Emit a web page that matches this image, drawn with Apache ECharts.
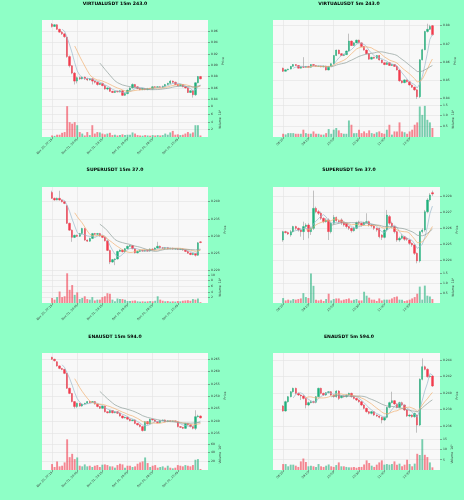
<!DOCTYPE html>
<html><head><meta charset="utf-8">
<script src="https://cdn.jsdelivr.net/npm/echarts@6/dist/echarts.min.js"></script>
<style>html,body{margin:0;padding:0;background:#8effc6;}#c{width:464px;height:500px;}</style>
</head><body><div id="c"></div><script>
// ---------- DATA ----------
const ticks15 = ['Nov 30, 22:15','Dec 01, 00:45','Dec 01, 03:15','Dec 01, 05:45','Dec 01, 08:15','Dec 01, 10:45'];
const ticks5 = ['08:20','09:10','10:00','10:50','11:40','12:30'];
const tickPos = [0,10,20,30,40,50];
const titles = ['VIRTUALUSDT 15m 243.0','VIRTUALUSDT 5m 243.0','SUPERUSDT 15m 37.0','SUPERUSDT 5m 37.0','ENAUSDT 15m 594.0','ENAUSDT 5m 594.0'];

// rows: [open, close, low, high]
const virt15Ohlc = [[0.972,0.968,0.966,0.974],[0.968,0.971,0.967,0.972],[0.971,0.963,0.962,0.972],[0.963,0.958,0.957,0.964],[0.958,0.955,0.953,0.960],[0.955,0.950,0.948,0.956],[0.949,0.915,0.913,0.950],[0.915,0.899,0.896,0.917],[0.899,0.886,0.884,0.900],[0.886,0.872,0.866,0.888],[0.872,0.878,0.868,0.880],[0.878,0.876,0.874,0.880],[0.876,0.879,0.875,0.880],[0.879,0.876,0.874,0.880],[0.876,0.874,0.872,0.878],[0.874,0.876,0.873,0.877],[0.876,0.872,0.866,0.877],[0.872,0.870,0.868,0.873],[0.870,0.866,0.864,0.871],[0.866,0.868,0.865,0.869],[0.868,0.864,0.863,0.869],[0.864,0.858,0.857,0.865],[0.858,0.860,0.856,0.861],[0.860,0.854,0.853,0.861],[0.854,0.852,0.851,0.855],[0.852,0.854,0.851,0.855],[0.854,0.853,0.852,0.855],[0.853,0.855,0.852,0.856],[0.855,0.847,0.846,0.856],[0.847,0.850,0.846,0.851],[0.850,0.856,0.849,0.857],[0.856,0.860,0.855,0.861],[0.860,0.866,0.859,0.868],[0.866,0.862,0.861,0.867],[0.862,0.859,0.858,0.863],[0.859,0.857,0.856,0.860],[0.857,0.859,0.856,0.860],[0.859,0.857,0.856,0.860],[0.857,0.859,0.856,0.860],[0.859,0.858,0.857,0.860],[0.858,0.862,0.857,0.863],[0.862,0.861,0.860,0.863],[0.861,0.862,0.860,0.863],[0.862,0.861,0.860,0.863],[0.861,0.863,0.860,0.864],[0.863,0.866,0.862,0.867],[0.866,0.868,0.865,0.869],[0.868,0.872,0.867,0.874],[0.872,0.870,0.868,0.873],[0.870,0.866,0.865,0.871],[0.866,0.864,0.863,0.867],[0.864,0.866,0.863,0.867],[0.866,0.862,0.861,0.867],[0.862,0.860,0.859,0.863],[0.860,0.852,0.851,0.861],[0.852,0.855,0.851,0.856],[0.855,0.848,0.843,0.856],[0.848,0.869,0.846,0.870],[0.869,0.880,0.868,0.881],[0.880,0.876,0.875,0.881]];
const virt15Vol = [0.4,0.3,0.6,0.6,1.1,1.3,8.1,3.9,3.5,3.9,3.1,1.3,0.9,0.4,1.3,0.5,3.1,0.9,1.3,1.2,0.9,0.7,0.9,1.1,0.5,0.6,0.4,0.5,0.7,0.5,0.6,0.6,1.2,0.9,0.5,0.4,0.35,0.5,0.4,0.35,0.5,0.4,0.5,0.4,0.5,0.9,0.6,1.2,1.6,0.6,0.7,0.5,0.6,0.9,1.3,0.9,1.2,3.1,3.1,0.4];

const virt5Ohlc = [[0.8565,0.8548,0.8544,0.8568],[0.8548,0.8556,0.8546,0.8558],[0.8556,0.8560,0.8553,0.8562],[0.8560,0.8575,0.8558,0.8577],[0.8575,0.8585,0.8573,0.8588],[0.8585,0.8580,0.8577,0.8587],[0.8580,0.8565,0.8563,0.8582],[0.8565,0.8573,0.8563,0.8575],[0.8573,0.8570,0.8566,0.8626],[0.8570,0.8575,0.8568,0.8577],[0.8575,0.8570,0.8568,0.8577],[0.8570,0.8585,0.8568,0.8587],[0.8585,0.8580,0.8578,0.8587],[0.8580,0.8575,0.8573,0.8582],[0.8575,0.8577,0.8573,0.8579],[0.8577,0.8572,0.8570,0.8579],[0.8572,0.8577,0.8570,0.8579],[0.8577,0.8555,0.8552,0.8579],[0.8555,0.8575,0.8553,0.8577],[0.8575,0.8590,0.8573,0.8592],[0.8590,0.8635,0.8588,0.8638],[0.8635,0.8665,0.8632,0.8668],[0.8665,0.8645,0.8642,0.8668],[0.8645,0.8635,0.8632,0.8648],[0.8635,0.8640,0.8632,0.8643],[0.8640,0.8660,0.8638,0.8663],[0.8660,0.8715,0.8658,0.8756],[0.8715,0.8690,0.8688,0.8718],[0.8690,0.8705,0.8688,0.8708],[0.8705,0.8720,0.8703,0.8723],[0.8720,0.8705,0.8702,0.8723],[0.8705,0.8685,0.8682,0.8708],[0.8685,0.8665,0.8662,0.8688],[0.8665,0.8645,0.8642,0.8668],[0.8645,0.8615,0.8612,0.8648],[0.8615,0.8625,0.8612,0.8628],[0.8625,0.8620,0.8617,0.8628],[0.8620,0.8635,0.8618,0.8638],[0.8635,0.8610,0.8607,0.8638],[0.8610,0.8595,0.8592,0.8613],[0.8595,0.8585,0.8582,0.8598],[0.8585,0.8595,0.8583,0.8598],[0.8595,0.8580,0.8577,0.8598],[0.8580,0.8585,0.8577,0.8588],[0.8585,0.8575,0.8572,0.8588],[0.8575,0.8555,0.8552,0.8578],[0.8555,0.8495,0.8490,0.8558],[0.8495,0.8485,0.8480,0.8498],[0.8485,0.8500,0.8482,0.8503],[0.8500,0.8490,0.8486,0.8503],[0.8490,0.8472,0.8468,0.8493],[0.8472,0.8460,0.8456,0.8475],[0.8460,0.8445,0.8440,0.8463],[0.8445,0.8407,0.8395,0.8448],[0.8407,0.8611,0.8400,0.8615],[0.8611,0.8667,0.8608,0.8672],[0.8667,0.8768,0.8664,0.8772],[0.8768,0.8780,0.8762,0.8811],[0.8780,0.8796,0.8776,0.8805],[0.8800,0.8750,0.8745,0.8804]];
const virt5Vol = [0.15,0.12,0.18,0.18,0.18,0.15,0.15,0.15,0.34,0.18,0.15,0.15,0.26,0.15,0.15,0.11,0.11,0.18,0.37,0.15,0.34,0.42,0.31,0.18,0.15,0.15,0.77,0.57,0.18,0.18,0.34,0.18,0.26,0.18,0.31,0.18,0.15,0.22,0.26,0.18,0.15,0.34,0.57,0.11,0.26,0.26,0.68,0.26,0.22,0.15,0.26,0.34,0.57,0.68,1.42,1.03,1.45,0.8,0.68,0.42];

const super15Ohlc = [[0.2427,0.2410,0.2408,0.2432],[0.2410,0.2405,0.2403,0.2412],[0.2405,0.2410,0.2404,0.2412],[0.2410,0.2405,0.2403,0.2432],[0.2405,0.2400,0.2398,0.2407],[0.2400,0.2395,0.2393,0.2402],[0.2388,0.2337,0.2335,0.2390],[0.2337,0.2317,0.2315,0.2339],[0.2317,0.2296,0.2283,0.2319],[0.2296,0.2302,0.2294,0.2304],[0.2302,0.2299,0.2297,0.2304],[0.2299,0.2307,0.2297,0.2309],[0.2307,0.2322,0.2305,0.2324],[0.2322,0.2288,0.2286,0.2324],[0.2288,0.2285,0.2283,0.2290],[0.2285,0.2293,0.2283,0.2295],[0.2293,0.2307,0.2291,0.2309],[0.2307,0.2305,0.2303,0.2309],[0.2305,0.2307,0.2303,0.2309],[0.2307,0.2300,0.2298,0.2309],[0.2300,0.2296,0.2294,0.2302],[0.2296,0.2286,0.2284,0.2298],[0.2286,0.2258,0.2256,0.2288],[0.2258,0.2224,0.2218,0.2260],[0.2224,0.2231,0.2222,0.2233],[0.2231,0.2233,0.2215,0.2235],[0.2233,0.2255,0.2231,0.2257],[0.2255,0.2259,0.2253,0.2261],[0.2259,0.2254,0.2252,0.2261],[0.2254,0.2263,0.2252,0.2265],[0.2263,0.2270,0.2261,0.2272],[0.2270,0.2272,0.2268,0.2274],[0.2272,0.2263,0.2261,0.2274],[0.2263,0.2251,0.2249,0.2265],[0.2251,0.2255,0.2249,0.2257],[0.2255,0.2258,0.2253,0.2260],[0.2258,0.2256,0.2254,0.2260],[0.2256,0.2258,0.2254,0.2260],[0.2258,0.2256,0.2254,0.2260],[0.2256,0.2262,0.2254,0.2264],[0.2262,0.2260,0.2258,0.2264],[0.2260,0.2265,0.2258,0.2267],[0.2265,0.2270,0.2263,0.2283],[0.2270,0.2266,0.2264,0.2272],[0.2266,0.2264,0.2262,0.2268],[0.2264,0.2266,0.2262,0.2268],[0.2266,0.2263,0.2261,0.2268],[0.2263,0.2264,0.2261,0.2266],[0.2264,0.2262,0.2260,0.2266],[0.2262,0.2263,0.2260,0.2265],[0.2263,0.2261,0.2259,0.2265],[0.2261,0.2262,0.2259,0.2264],[0.2262,0.2259,0.2257,0.2264],[0.2259,0.2255,0.2253,0.2261],[0.2255,0.2250,0.2248,0.2257],[0.2250,0.2246,0.2244,0.2252],[0.2246,0.2249,0.2244,0.2251],[0.2249,0.2244,0.2240,0.2251],[0.2244,0.2280,0.2242,0.2282],[0.2283,0.2281,0.2279,0.2285]];
const super15Vol = [1.8,1.2,2.1,4.1,2.1,2.4,10.6,4.7,6.4,2.9,3.8,1.4,1.8,2.4,1.4,1.2,2.1,0.9,1.2,1.2,2.1,2.4,3.5,3.3,1.2,0.6,1.6,1.4,1.4,1.2,0.7,0.7,0.8,0.9,0.6,0.5,0.6,0.5,0.6,0.7,0.6,0.8,2.4,1.2,0.8,0.6,0.7,0.5,0.6,0.5,0.7,0.6,0.8,0.9,1.0,0.8,1.4,1.2,1.6,0.3];

const super5Ohlc = [[0.22526,0.22579,0.22515,0.22584],[0.22579,0.22573,0.22568,0.22584],[0.22573,0.22564,0.22558,0.22579],[0.22558,0.22579,0.22547,0.22590],[0.22579,0.22611,0.22573,0.22616],[0.22611,0.22600,0.22590,0.22616],[0.22600,0.22589,0.22579,0.22605],[0.22589,0.22579,0.22547,0.22600],[0.22579,0.22611,0.22526,0.22642],[0.22611,0.22621,0.22600,0.22632],[0.22621,0.22579,0.22537,0.22632],[0.22579,0.22600,0.22558,0.22611],[0.22600,0.22726,0.22589,0.22838],[0.22726,0.22705,0.22695,0.22737],[0.22705,0.22695,0.22684,0.22716],[0.22695,0.22663,0.22653,0.22705],[0.22663,0.22642,0.22632,0.22669],[0.22642,0.22653,0.22636,0.22663],[0.22653,0.22579,0.22526,0.22663],[0.22579,0.22632,0.22568,0.22642],[0.22632,0.22669,0.22621,0.22684],[0.22669,0.22648,0.22642,0.22674],[0.22648,0.22642,0.22632,0.22653],[0.22653,0.22636,0.22621,0.22663],[0.22636,0.22621,0.22611,0.22642],[0.22632,0.22611,0.22600,0.22636],[0.22611,0.22600,0.22589,0.22616],[0.22600,0.22585,0.22573,0.22605],[0.22585,0.22600,0.22579,0.22611],[0.22600,0.22636,0.22595,0.22642],[0.22636,0.22632,0.22621,0.22648],[0.22632,0.22621,0.22611,0.22636],[0.22621,0.22636,0.22616,0.22642],[0.22636,0.22642,0.22632,0.22695],[0.22642,0.22621,0.22611,0.22648],[0.22621,0.22615,0.22605,0.22627],[0.22615,0.22600,0.22589,0.22621],[0.22600,0.22589,0.22579,0.22605],[0.22600,0.22547,0.22537,0.22605],[0.22558,0.22543,0.22526,0.22563],[0.22543,0.22589,0.22537,0.22595],[0.22589,0.22684,0.22579,0.22716],[0.22674,0.22632,0.22621,0.22684],[0.22632,0.22611,0.22600,0.22642],[0.22611,0.22579,0.22568,0.22616],[0.22579,0.22526,0.22515,0.22584],[0.22526,0.22537,0.22515,0.22547],[0.22537,0.22552,0.22531,0.22563],[0.22547,0.22531,0.22521,0.22552],[0.22537,0.22531,0.22521,0.22543],[0.22526,0.22505,0.22495,0.22531],[0.22505,0.22495,0.22484,0.22510],[0.22495,0.22442,0.22432,0.22500],[0.22442,0.22394,0.22379,0.22447],[0.22394,0.22579,0.22384,0.22584],[0.22579,0.22589,0.22568,0.22600],[0.22589,0.22705,0.22579,0.22716],[0.22705,0.22779,0.22695,0.22790],[0.22779,0.22811,0.22768,0.22822],[0.22825,0.22817,0.22805,0.22838]];
const super5Vol = [0.25,0.13,0.17,0.13,0.2,0.17,0.2,0.23,0.5,0.3,0.25,1.5,0.87,0.17,0.13,0.17,0.1,0.2,0.47,0.13,0.2,0.23,0.23,0.13,0.17,0.2,0.23,0.13,0.17,0.2,0.13,0.13,0.57,0.37,0.27,0.17,0.17,0.1,0.23,0.13,0.17,0.17,0.17,0.23,0.3,0.33,0.17,0.17,0.1,0.13,0.17,0.23,0.3,0.47,0.83,0.17,0.88,0.37,0.33,0.2];

const ena15Ohlc = [[0.2657,0.2649,0.2646,0.2659],[0.2649,0.2643,0.2640,0.2651],[0.2639,0.2622,0.2619,0.2641],[0.2622,0.2612,0.2609,0.2624],[0.2612,0.2608,0.2605,0.2614],[0.2608,0.2592,0.2589,0.2610],[0.2592,0.2532,0.2529,0.2594],[0.2532,0.2511,0.2508,0.2534],[0.2511,0.2478,0.2475,0.2513],[0.2478,0.2458,0.2450,0.2480],[0.2458,0.2471,0.2452,0.2474],[0.2471,0.2460,0.2457,0.2473],[0.2460,0.2468,0.2457,0.2470],[0.2468,0.2471,0.2466,0.2473],[0.2471,0.2478,0.2469,0.2480],[0.2478,0.2474,0.2472,0.2480],[0.2474,0.2478,0.2472,0.2480],[0.2478,0.2468,0.2466,0.2480],[0.2468,0.2458,0.2455,0.2470],[0.2458,0.2451,0.2448,0.2460],[0.2451,0.2460,0.2449,0.2462],[0.2460,0.2437,0.2434,0.2462],[0.2437,0.2433,0.2430,0.2439],[0.2433,0.2442,0.2431,0.2444],[0.2442,0.2433,0.2430,0.2444],[0.2433,0.2437,0.2431,0.2439],[0.2437,0.2431,0.2428,0.2439],[0.2431,0.2420,0.2417,0.2433],[0.2420,0.2412,0.2409,0.2422],[0.2412,0.2415,0.2410,0.2417],[0.2415,0.2407,0.2404,0.2417],[0.2407,0.2401,0.2398,0.2409],[0.2401,0.2404,0.2399,0.2406],[0.2404,0.2390,0.2387,0.2406],[0.2390,0.2384,0.2381,0.2392],[0.2384,0.2377,0.2374,0.2386],[0.2377,0.2361,0.2357,0.2379],[0.2361,0.2397,0.2359,0.2399],[0.2397,0.2388,0.2385,0.2399],[0.2388,0.2407,0.2386,0.2409],[0.2407,0.2404,0.2401,0.2409],[0.2404,0.2397,0.2394,0.2406],[0.2397,0.2393,0.2390,0.2399],[0.2393,0.2401,0.2391,0.2403],[0.2401,0.2404,0.2399,0.2406],[0.2404,0.2397,0.2395,0.2406],[0.2397,0.2401,0.2395,0.2403],[0.2401,0.2398,0.2396,0.2403],[0.2398,0.2400,0.2396,0.2402],[0.2400,0.2397,0.2395,0.2402],[0.2397,0.2377,0.2374,0.2399],[0.2377,0.2374,0.2371,0.2379],[0.2374,0.2370,0.2367,0.2376],[0.2370,0.2390,0.2368,0.2392],[0.2390,0.2384,0.2381,0.2392],[0.2384,0.2377,0.2374,0.2386],[0.2377,0.2370,0.2366,0.2379],[0.2370,0.2417,0.2363,0.2443],[0.2417,0.2420,0.2414,0.2425],[0.2420,0.2412,0.2410,0.2422]];
const ena15Vol = [13.6,6.8,19.6,8.3,9.8,17.4,70.2,29.4,37,24.9,28.7,9.8,8.3,12.8,8.3,9.8,6.8,9.8,11.3,6.8,12.1,12.8,11.3,8.3,8.3,5.3,11.3,14.3,12.8,5.3,9.8,9.8,6.8,8.3,14.3,17.4,19.6,28.7,15.9,6.8,9.8,11.3,5.3,6.8,8.3,5.3,9.8,5.3,3.8,5.3,11.3,9.8,8.3,11.3,9.8,8.3,11.3,23.4,24.9,2.3];

const ena5Ohlc = [[0.23842,0.23782,0.23774,0.23855],[0.23782,0.23895,0.23774,0.23907],[0.23895,0.23956,0.23883,0.23964],[0.23956,0.24016,0.23948,0.24024],[0.24016,0.24057,0.24004,0.24065],[0.24057,0.23996,0.23984,0.24065],[0.23996,0.23976,0.23964,0.24004],[0.23976,0.23964,0.23915,0.23984],[0.23964,0.23935,0.23923,0.23976],[0.23935,0.23855,0.23814,0.23948],[0.23855,0.23883,0.23842,0.23895],[0.23883,0.23895,0.23875,0.23907],[0.23895,0.23887,0.23875,0.23907],[0.23887,0.23956,0.23875,0.23964],[0.23956,0.24057,0.23948,0.24065],[0.24057,0.23996,0.23984,0.24065],[0.23996,0.23976,0.23964,0.24004],[0.23976,0.24004,0.23964,0.24012],[0.24004,0.24016,0.23996,0.24024],[0.24016,0.23976,0.23964,0.24024],[0.23976,0.23956,0.23944,0.23984],[0.23956,0.24024,0.23944,0.24036],[0.24024,0.23935,0.23915,0.24036],[0.23944,0.23964,0.23935,0.23976],[0.23964,0.23956,0.23944,0.23972],[0.23956,0.23976,0.23944,0.23984],[0.23976,0.23996,0.23964,0.24004],[0.23996,0.23956,0.23944,0.24004],[0.23956,0.23935,0.23923,0.23964],[0.23935,0.23915,0.23903,0.23944],[0.23915,0.23895,0.23883,0.23923],[0.23895,0.23855,0.23842,0.23903],[0.23855,0.23814,0.23802,0.23863],[0.23814,0.23774,0.23762,0.23822],[0.23774,0.23754,0.23741,0.23782],[0.23754,0.23774,0.23741,0.23782],[0.23774,0.23733,0.23721,0.23782],[0.23733,0.23721,0.23709,0.23741],[0.23721,0.23705,0.23693,0.23729],[0.23705,0.23673,0.23632,0.23713],[0.23673,0.23705,0.23661,0.23713],[0.23705,0.23826,0.23693,0.23834],[0.23826,0.23883,0.23814,0.23895],[0.23883,0.23907,0.23875,0.24016],[0.23907,0.23867,0.23855,0.23915],[0.23867,0.23826,0.23814,0.23875],[0.23826,0.23883,0.23814,0.23895],[0.23883,0.23855,0.23842,0.23895],[0.23855,0.23794,0.23782,0.23863],[0.23794,0.23721,0.23709,0.23802],[0.23721,0.23733,0.23709,0.23741],[0.23733,0.23713,0.23701,0.23741],[0.23713,0.23754,0.23701,0.23762],[0.23733,0.23612,0.23519,0.23741],[0.23612,0.24166,0.23600,0.24178],[0.24166,0.24319,0.24154,0.24420],[0.24319,0.24287,0.24275,0.24331],[0.24287,0.24198,0.24186,0.24299],[0.24198,0.24206,0.24186,0.24218],[0.24206,0.24085,0.24073,0.24218]];
const ena5Vol = [2.9,2.9,1.8,2.6,2.6,2.1,1.5,4.2,5.6,3.9,1.8,2.1,1.8,1.5,2.9,1.8,1.5,2.1,2.7,1.8,1.5,2.4,3.7,1.8,1.8,1.5,1.3,1.3,1.5,1.1,1.5,1.5,2.7,4.7,3.4,2.1,1.5,2.6,3.7,4.7,2.6,2.9,2.6,2.9,4.2,2.6,3.1,1.8,2.6,5.0,2.9,1.8,3.1,7.9,7.3,15.0,7.4,6.3,3.7,1.3];

// axis tick labels
const virt15PriceTicks = [0.84,0.86,0.88,0.90,0.92,0.94,0.96];
const virt5PriceTicks = [0.84,0.85,0.86,0.87,0.88];
const super15PriceTicks = [0.220,0.225,0.230,0.235,0.240];
const super5PriceTicks = [0.224,0.225,0.226,0.227,0.228];
const ena15PriceTicks = [0.235,0.240,0.245,0.250,0.255,0.260,0.265];
const ena5PriceTicks = [0.236,0.238,0.240,0.242,0.244];
const virt15VolTicks = [2,4,6,8];
const virt5VolTicks = [0.5,1.0,1.5];
const super15VolTicks = [2,4,6,8,10];
const super5VolTicks = [0.5,1.0,1.5];
const ena15VolTicks = [20,40,60];
const ena5VolTicks = [5,10,15];
const maPeriods = [5,10,20];

// ---------- LAYOUT / STYLE ----------
const UP = '#1fb07c', DOWN = '#f23b4c', WICK = '#9a9a9a';
const MA_COLORS = ['#9bb9cc','#f2b071','#8f9f9b'];
const PAD_L = 4, PAD_R = 3;
const colLeft = [42, 273], colW = [166, 167];
const rowTop = [20, 187, 353], rowPH = [82, 85, 85], rowVH = [35, 31, 32];
const titleX = [115, 349], titleY = [3.5, 169.7, 336.3];
const FONT = 'DejaVu Sans';

const panels = [
  {ohlc: virt15Ohlc, vol: virt15Vol, ticks: ticks15, pt: virt15PriceTicks, pmin: 0.83526, pmax: 0.97933, pdec: 2, vt: virt15VolTicks, vmax: 9.2, vdec: 0, vname: 'Volume  10⁶'},
  {ohlc: virt5Ohlc, vol: virt5Vol, ticks: ticks5, pt: virt5PriceTicks, pmin: 0.83779, pmax: 0.88315, pdec: 2, vt: virt5VolTicks, vmax: 1.63, vdec: 1, vname: 'Volume  10⁶'},
  {ohlc: super15Ohlc, vol: super15Vol, ticks: ticks15, pt: super15PriceTicks, pmin: 0.21950, pmax: 0.24429, pdec: 3, vt: super15VolTicks, vmax: 11.06, vdec: 0, vname: 'Volume  10⁶'},
  {ohlc: super5Ohlc, vol: super5Vol, ticks: ticks5, pt: super5PriceTicks, pmin: 0.22324, pmax: 0.22861, pdec: 3, vt: super5VolTicks, vmax: 1.57, vdec: 1, vname: 'Volume  10⁶'},
  {ohlc: ena15Ohlc, vol: ena15Vol, ticks: ticks15, pt: ena15PriceTicks, pmin: 0.23310, pmax: 0.26742, pdec: 3, vt: ena15VolTicks, vmax: 73.2, vdec: 0, vname: 'Volume  10⁵'},
  {ohlc: ena5Ohlc, vol: ena5Vol, ticks: ticks5, pt: ena5PriceTicks, pmin: 0.23455, pmax: 0.24485, pdec: 3, vt: ena5VolTicks, vmax: 15.6, vdec: 0, vname: 'Volume  10⁵'}
];

function pad(arr, fill) {
  const a = [];
  for (let i = 0; i < PAD_L; i++) a.push(fill);
  arr.forEach(v => a.push(v));
  for (let i = 0; i < PAD_R; i++) a.push(fill);
  return a;
}
function sma(closes, n) {
  return closes.map((_, i) => {
    if (i < n - 1) return '-';
    let s = 0; for (let j = i - n + 1; j <= i; j++) s += closes[j];
    return s / n;
  });
}

const grids = [], xAxes = [], yAxes = [], series = [], graphics = [];
const EMPTY4 = ['-','-','-','-'];

panels.forEach((p, k) => {
  const col = k % 2, row = Math.floor(k / 2);
  const cats = pad(p.ohlc.map((_, i) => String(i)), '');
  const showIdx = idx => tickPos.indexOf(idx - PAD_L) >= 0;
  const gi = grids.length;
  grids.push({left: colLeft[col], width: colW[col], top: rowTop[row], height: rowPH[row], show: true, backgroundColor: '#f8f8f8', borderWidth: 0, containLabel: false});
  grids.push({left: colLeft[col], width: colW[col], top: rowTop[row] + rowPH[row], height: rowVH[row], show: true, backgroundColor: '#f8f8f8', borderWidth: 0, containLabel: false});
  const baseX = {type: 'category', data: cats, boundaryGap: false, axisLine: {show: false},
    splitLine: {show: true, interval: (i) => showIdx(i), lineStyle: {color: '#e2e2e2', width: 0.6}}};
  xAxes.push(Object.assign({}, baseX, {gridIndex: gi, axisLabel: {show: false}, axisTick: {show: false}}));
  xAxes.push(Object.assign({}, baseX, {gridIndex: gi + 1,
    axisTick: {show: true, interval: (i) => showIdx(i), length: 2, lineStyle: {color: '#555', width: 0.5}},
    axisLabel: {show: true, interval: (i) => showIdx(i), rotate: 45, fontSize: 3, color: '#333', margin: 2, fontFamily: FONT,
      formatter: (v, idx) => { const t = tickPos.indexOf(idx - PAD_L); return t >= 0 ? p.ticks[t] : ''; }}}));
  yAxes.push({type: 'value', gridIndex: gi, position: 'right', min: p.pmin, max: p.pmax, scale: true,
    axisLine: {show: false},
    axisTick: {show: true, customValues: p.pt, length: 2, lineStyle: {color: '#555', width: 0.5}},
    axisLabel: {show: true, customValues: p.pt, fontSize: 3, color: '#333', margin: 3, fontFamily: FONT, formatter: v => v.toFixed(p.pdec)},
    splitLine: {show: true, lineStyle: {color: '#e2e2e2', width: 0.6}},
    name: 'Price', nameLocation: 'middle', nameGap: 11, nameRotate: 90, nameTextStyle: {fontSize: 3.2, color: '#333', fontFamily: FONT}});
  yAxes.push({type: 'value', gridIndex: gi + 1, position: 'right', min: 0, max: p.vmax,
    axisLine: {show: false},
    axisTick: {show: true, customValues: p.vt, length: 2, lineStyle: {color: '#555', width: 0.5}},
    axisLabel: {show: true, customValues: p.vt, fontSize: 3, color: '#333', margin: 3, fontFamily: FONT, formatter: v => v.toFixed(p.vdec)},
    splitLine: {show: true, lineStyle: {color: '#e2e2e2', width: 0.6}},
    name: p.vname, nameLocation: 'middle', nameGap: 11, nameRotate: 90, nameTextStyle: {fontSize: 3.2, color: '#333', fontFamily: FONT}});

  series.push({type: 'candlestick', xAxisIndex: gi, yAxisIndex: gi, barWidth: 1.0,
    data: pad(p.ohlc.map(r => [r[0], r[1], r[2], r[3]]), EMPTY4),
    itemStyle: {color: WICK, color0: WICK, borderColor: WICK, borderColor0: WICK, borderWidth: 0.6}});
  series.push({type: 'candlestick', xAxisIndex: gi, yAxisIndex: gi, barWidth: 1.9,
    data: pad(p.ohlc.map(r => [r[0], r[1], Math.min(r[0], r[1]), Math.max(r[0], r[1])]), EMPTY4),
    itemStyle: {color: UP, color0: DOWN, borderColor: UP, borderColor0: DOWN, borderWidth: 0.4}});
  const closes = p.ohlc.map(r => r[1]);
  maPeriods.forEach((m, j) => {
    series.push({type: 'line', xAxisIndex: gi, yAxisIndex: gi, data: pad(sma(closes, m), '-'),
      showSymbol: false, symbol: 'none', smooth: false, lineStyle: {width: 0.7, color: MA_COLORS[j]}, z: 5});
  });
  series.push({type: 'bar', xAxisIndex: gi + 1, yAxisIndex: gi + 1, barWidth: 1.9,
    data: pad(p.vol.map((v, i) => ({value: v, itemStyle: {color: p.ohlc[i][1] >= p.ohlc[i][0] ? UP : DOWN, opacity: 0.6}})), '-')});

  graphics.push({type: 'text', x: titleX[col], y: titleY[row],
    style: {text: titles[k], font: 'bold 4.6px "DejaVu Sans"', fill: '#000', align: 'center', verticalAlign: 'middle', textAlign: 'center', textVerticalAlign: 'middle'}});
});

const chart = echarts.init(document.getElementById('c'), null, {renderer: 'canvas'});
chart.setOption({
  backgroundColor: '#8effc6',
  animation: false,
  grid: grids, xAxis: xAxes, yAxis: yAxes, series: series, graphic: graphics
});
</script></body></html>
